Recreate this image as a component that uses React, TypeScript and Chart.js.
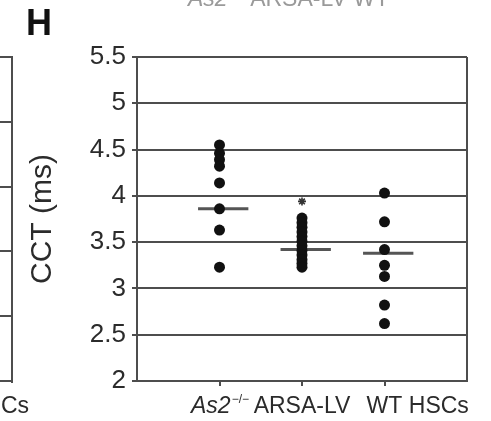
import React, { useEffect, useRef } from 'react';
import { Chart, registerables } from 'chart.js';

Chart.register(...registerables);

// ---- data ----
const categories = ['As2', 'ARSA-LV', 'WT'];
const categorySuperscripts = ['−/−', '', ''];
const trailingLabel = 'HSCs';
const as2Values = [4.55, 4.46, 4.39, 4.32, 4.14, 3.86, 3.63, 3.23];
const arsaValues = [3.76, 3.71, 3.66, 3.61, 3.56, 3.51, 3.46, 3.41, 3.36, 3.31, 3.27, 3.23];
const wtValues = [4.03, 3.72, 3.42, 3.25, 3.13, 2.82, 2.62];
const meanValues = [3.86, 3.42, 3.38];
const significance = [null, 3.94, null];
const yTicks = [2, 2.5, 3, 3.5, 4, 4.5, 5, 5.5];
const yTitle = 'CCT (ms)';
const panelLetter = 'H';
const topFragmentLabels = ['As2', 'ARSA-LV', 'WT'];

const groups = [as2Values, arsaValues, wtValues];

const FONT = '"Liberation Sans", Arial, Helvetica, sans-serif';
const INK = '#2b2b2b';
const GRID = '#4d4d4d';

const xLabelPlugin = {
  id: 'xLabels',
  afterDraw(chart: any) {
    const { ctx, chartArea, scales } = chart;
    const x = scales.x;
    ctx.save();
    ctx.fillStyle = INK;
    ctx.textBaseline = 'alphabetic';
    ctx.textAlign = 'left';
    const baseY = chartArea.bottom + 32;
    categories.forEach((c, i) => {
      const px = x.getPixelForValue(i + 1);
      const italic = categorySuperscripts[i] !== '';
      const mainFont = `${italic ? 'italic ' : ''}23px ${FONT}`;
      const supFont = `12px ${FONT}`;
      ctx.font = mainFont;
      const w1 = ctx.measureText(c).width;
      ctx.font = supFont;
      const w2 = categorySuperscripts[i] ? ctx.measureText(categorySuperscripts[i]).width : 0;
      const start = px - (w1 + w2) / 2;
      ctx.font = mainFont;
      ctx.fillText(c, start, baseY);
      if (categorySuperscripts[i]) {
        ctx.font = supFont;
        ctx.fillText(categorySuperscripts[i], start + w1 + 1, baseY - 10);
      }
      if (i === categories.length - 1) {
        ctx.font = `23px ${FONT}`;
        ctx.fillText(' ' + trailingLabel, start + w1, baseY);
      }
    });
    ctx.restore();
  },
};

export default function App() {
  const ref = useRef<HTMLCanvasElement | null>(null);

  useEffect(() => {
    document.body.style.margin = '0';
    const canvas = ref.current;
    if (!canvas) return;

    const dotData = groups.flatMap((vals, i) => vals.map((v) => ({ x: i + 1, y: v })));
    const meanDatasets = meanValues.map((m, i) => ({
      type: 'line' as const,
      data: [
        { x: i + 1 - 0.26, y: m },
        { x: i + 1 + 0.35, y: m },
      ],
      borderColor: '#555',
      borderWidth: 3,
      pointRadius: 0,
      showLine: true,
      order: 2,
    }));
    const starData = significance
      .map((v, i) => (v == null ? null : { x: i + 1, y: v }))
      .filter((p) => p !== null);

    const chart = new Chart(canvas, {
      type: 'scatter',
      data: {
        datasets: [
          {
            data: dotData,
            backgroundColor: '#111',
            borderColor: '#111',
            borderWidth: 0,
            pointRadius: 5.5,
            order: 1,
          } as any,
          ...meanDatasets,
          {
            data: starData,
            pointStyle: 'star',
            pointRadius: 4,
            borderColor: '#333',
            borderWidth: 1.6,
            backgroundColor: '#333',
            order: 0,
          } as any,
        ],
      },
      options: {
        animation: false,
        responsive: false,
        devicePixelRatio: 1,
        layout: { padding: { top: 57, right: 24, left: 0, bottom: 0 } },
        plugins: { legend: { display: false }, tooltip: { enabled: false } },
        scales: {
          x: {
            type: 'linear',
            min: 0,
            max: categories.length + 1,
            ticks: { stepSize: 1, callback: () => '', font: { size: 1 } },
            grid: {
              color: (c: any) => (c.tick && c.tick.value === categories.length + 1 ? GRID : 'transparent'),
              tickColor: (c: any) =>
                c.tick && c.tick.value >= 1 && c.tick.value <= categories.length ? GRID : 'transparent',
              tickLength: 5,
              lineWidth: 2,
            },
            border: { color: GRID, width: 2 },
            afterFit: (s: any) => {
              s.height = 40;
            },
          },
          y: {
            type: 'linear',
            min: yTicks[0],
            max: yTicks[yTicks.length - 1],
            afterBuildTicks: (s: any) => {
              s.ticks = yTicks.map((v) => ({ value: v }));
            },
            ticks: {
              color: INK,
              padding: 6,
              font: { family: FONT, size: 26 },
              callback: (v: any) => String(Number(v)),
            },
            grid: { color: GRID, lineWidth: 2, tickLength: 5, tickColor: GRID },
            border: { color: GRID, width: 2 },
            title: {
              display: true,
              text: yTitle,
              color: INK,
              font: { family: FONT, size: 30 },
              padding: { top: 25, bottom: 0 },
            },
            afterFit: (s: any) => {
              s.width = 137;
            },
          },
        },
      },
      plugins: [xLabelPlugin],
    } as any);

    return () => chart.destroy();
  }, []);

  return (
    <div
      style={{
        position: 'relative',
        width: 491,
        height: 421,
        overflow: 'hidden',
        background: '#fff',
        fontFamily: FONT,
      }}
    >
      <canvas ref={ref} width={491} height={421} style={{ display: 'block', width: 491, height: 421 }} />
      {/* panel letter */}
      <div
        style={{
          position: 'absolute',
          left: 26,
          top: 5,
          fontSize: 36,
          fontWeight: 'bold',
          color: '#111',
          lineHeight: 1,
        }}
      >
        {panelLetter}
      </div>
      {/* cut-off labels of the panel above */}
      <div
        style={{
          position: 'absolute',
          left: 188,
          top: -13,
          fontSize: 23,
          color: '#9a9a9a',
          lineHeight: 1,
          whiteSpace: 'nowrap',
        }}
      >
        <i>{topFragmentLabels[0]}</i>
        <sup style={{ fontSize: 12 }}>−/−</sup> {topFragmentLabels[1]} {topFragmentLabels[2]}
      </div>
      {/* edge of the neighbouring panel on the left */}
      <div
        style={{
          position: 'absolute',
          left: 0,
          top: 56,
          width: 11,
          height: 327,
          borderRight: `2px solid ${GRID}`,
          background: `repeating-linear-gradient(to bottom, ${GRID} 0px, ${GRID} 2px, transparent 2px, transparent 64.8px)`,
        }}
      />
      <div
        style={{
          position: 'absolute',
          right: 462,
          top: 394,
          fontSize: 23,
          color: INK,
          lineHeight: 1,
          whiteSpace: 'nowrap',
        }}
      >
        {trailingLabel}
      </div>
    </div>
  );
}
